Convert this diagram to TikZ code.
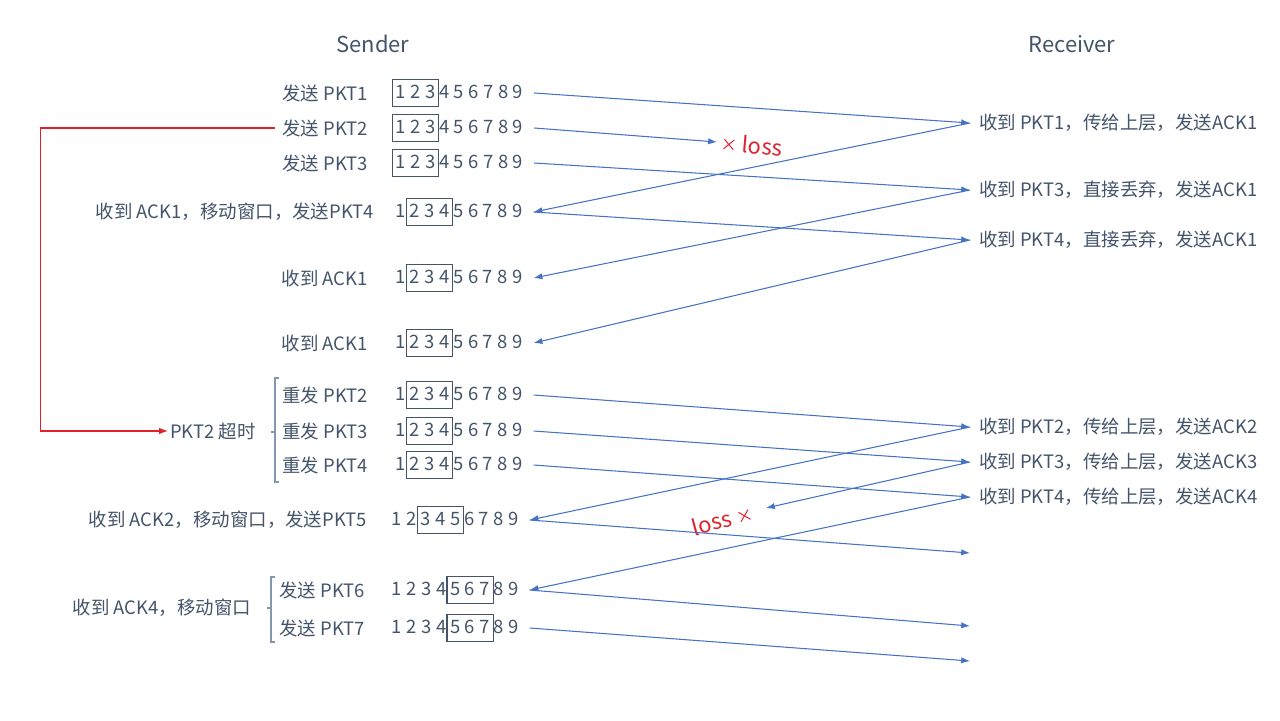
\documentclass[tikz,border=0pt]{standalone}
\usepackage{fontspec}
\setmainfont{Noto Sans CJK SC}
\newfontfamily\numfont[WordSpace=1.1]{Noto Sans CJK SC}
\usetikzlibrary{arrows.meta}

\definecolor{txt}{HTML}{44546A}
\definecolor{lnk}{HTML}{4472C4}
\definecolor{brk}{HTML}{8497B0}
\definecolor{lossred}{HTML}{E0202A}

\setlength{\fboxsep}{1.5pt}
\setlength{\fboxrule}{0.6pt}
\newcommand*{\Win}[3]{#1\fbox{\rule[-3pt]{0pt}{12pt}#2}#3}
\newcommand*{\Cross}{{\fontsize{9.5}{11}\selectfont ×}}

\tikzset{
  lbl/.style={text=txt, inner sep=1pt, anchor=east, font=\fontsize{10.5}{12}\selectfont},
  num/.style={text=txt, inner xsep=6pt, inner ysep=0pt, anchor=west, font=\numfont\fontsize{10.5}{12}\selectfont},
  rcv/.style={text=txt, inner xsep=5pt, anchor=west, font=\fontsize{10.5}{12}\selectfont},
  lossl/.style={text=lossred, inner sep=1pt, font=\fontsize{12.5}{14}\selectfont},
  pk/.style={draw=lnk, line width=0.6pt, -{Latex[length=5pt,width=3.6pt]}},
}

\begin{document}
\begin{tikzpicture}[x=0.02cm, y=-0.02cm]
            \useasboundingbox (0,0) rectangle (1280,720);
            \node[text=txt, font=\fontsize{12.5}{14}\selectfont] (snd) at (373,44) {Sender};
            \node[text=txt, font=\fontsize{12.5}{14}\selectfont] (rec) at (1072,44) {Receiver};
            % sender side
            \node[lbl] (s1) at (370,93) {发送 PKT1};
            \node[lbl] (s2) at (370,128) {发送 PKT2};
            \node[lbl] (s3) at (370,163) {发送 PKT3};
            \node[lbl] (s4) at (376,212) {收到 ACK1，移动窗口，发送PKT4};
            \node[lbl] (s5) at (370,278) {收到 ACK1};
            \node[lbl] (s6) at (370,343) {收到 ACK1};
            \node[lbl] (s7) at (370,395) {重发 PKT2};
            \node[lbl] (s8) at (370,431) {重发 PKT3};
            \node[lbl] (s9) at (370,465) {重发 PKT4};
            \node[lbl] (s10) at (369,520) {收到 ACK2，移动窗口，发送PKT5};
            \node[lbl] (s11) at (367,590) {发送 PKT6};
            \node[lbl] (s12) at (367,628) {发送 PKT7};
            \node[lbl, anchor=west] (tmo) at (168,431) {PKT2 超时};
            \node[lbl] (ack4) at (253,608) {收到 ACK4，移动窗口};
            % windows
            \foreach \i/\y in {1/93,2/128,3/163}{
              \node[num] (n\i) at (381,\y) {\Win{}{1 2 3}{4 5 6 7 8 9}};
            }
            \foreach \i/\y in {4/212,5/278,6/343,7/395,8/431,9/465}{
              \node[num] (n\i) at (385,\y) {\Win{1}{2 3 4}{5 6 7 8 9}};
            }
            \node[num] (n10) at (381,520) {\Win{1 2}{3 4 5}{6 7 8 9}};
            \foreach \i/\y in {11/590,12/628}{
              \node[num] (n\i) at (381,\y) {\Win{1 2 3 4}{5 6 7}{8 9}};
            }
            % receiver side
            \node[rcv] (r1) at (970,123) {收到 PKT1，传给上层，发送ACK1};
            \node[rcv] (r2) at (970,190) {收到 PKT3，直接丢弃，发送ACK1};
            \node[rcv] (r3) at (970,240) {收到 PKT4，直接丢弃，发送ACK1};
            \node[rcv] (r4) at (970,427) {收到 PKT2，传给上层，发送ACK2};
            \node[rcv] (r5) at (970,462) {收到 PKT3，传给上层，发送ACK3};
            \node[rcv] (r6) at (970,497) {收到 PKT4，传给上层，发送ACK4};
            \coordinate (f5) at (970,553);
            \coordinate (f6) at (970,626);
            \coordinate (f7) at (970,661);
            \node[lossl, anchor=west, rotate=-5, inner xsep=2pt] (l1) at (717,142) {\Cross\ loss};
            \node[lossl, anchor=east, rotate=15, inner xsep=8pt] (l2) at (766,508) {loss \Cross};
            % packets and acks
            \draw[pk] (n1.east) -- (r1.west);
            \draw[pk] (n2.east) -- (l1.west);
            \draw[pk] (n3.east) -- (r2.west);
            \draw[pk] (n4.east) -- (r3.west);
            \draw[pk] (r1.west) -- (n4.east);
            \draw[pk] (r2.west) -- (n5.east);
            \draw[pk] (r3.west) -- (n6.east);
            \draw[pk] (n7.east) -- (r4.west);
            \draw[pk] (n8.east) -- (r5.west);
            \draw[pk] (n9.east) -- (r6.west);
            \draw[pk] (r4.west) -- (n10.east);
            \draw[pk] (r5.west) -- (l2.east);
            \draw[pk] (n10.east) -- (f5);
            \draw[pk] (r6.west) -- (n11.east);
            \draw[pk] (n11.east) -- (f6);
            \draw[pk] (n12.east) -- (f7);
            % timeout
            \draw[draw=lossred, line width=0.6pt, -{Latex[length=5pt,width=3.6pt]}]
              ([xshift=-3pt]s2.west) -- ++(-234,0) |- (tmo.west);
            \draw[brk, line width=0.6pt] (279,378) -- (275,378) -- (275,482) -- (279,482)
              (275,432) -- (271,432);
            \draw[brk, line width=0.6pt] (275,577) -- (271,577) -- (271,642) -- (275,642)
              (271,608) -- (267,608);
          \end{tikzpicture}
\end{document}
